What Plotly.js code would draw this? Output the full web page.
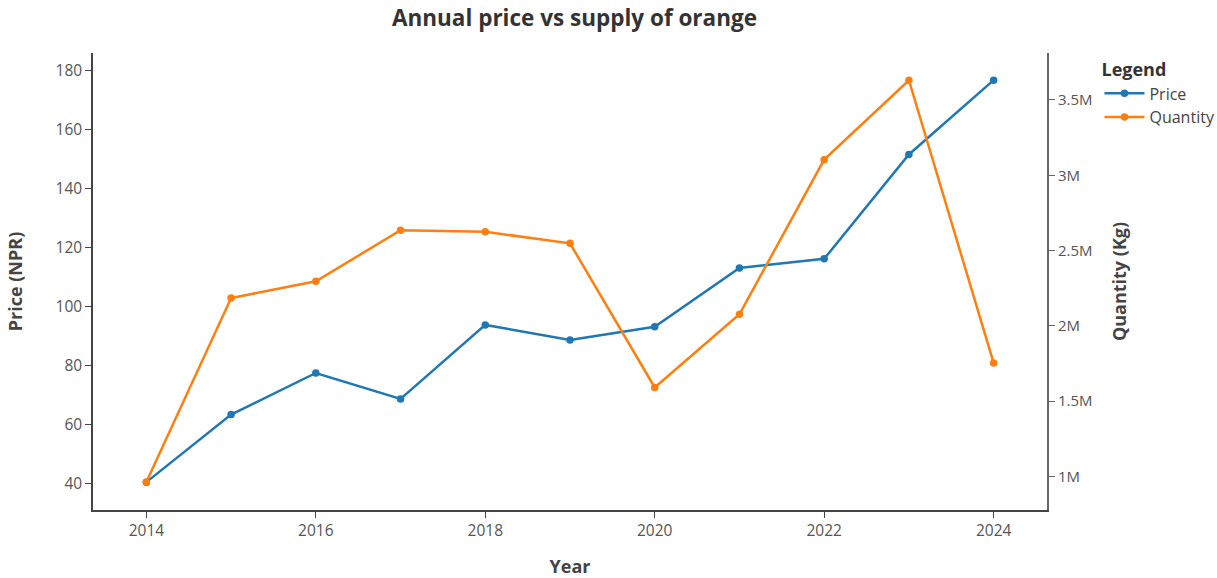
<!DOCTYPE html>
<html>
<head>
<meta charset="utf-8">
<script src="https://cdn.plot.ly/plotly-3.0.1.min.js"></script>
<style>html,body{margin:0;padding:0;background:#fff;}#chart{width:1217px;height:578px;}</style>
</head>
<body>
<div id="chart"></div>
<script>
const years = [2014, 2015, 2016, 2017, 2018, 2019, 2020, 2021, 2022, 2023, 2024];
const price = [40.4, 63.3, 77.4, 68.6, 93.7, 88.6, 93.1, 113.0, 116.1, 151.5, 176.7];
const quantity = [963000, 2185000, 2296000, 2635000, 2625000, 2548000, 1591000, 2077000, 3104000, 3631000, 1754000];

const font = 'Open Sans, Noto Sans, sans-serif';

const traces = [
  {x: years, y: price, name: 'Price', type: 'scatter', mode: 'lines+markers', yaxis: 'y',
   line: {color: '#1f77b4', width: 2.5}, marker: {color: '#1f77b4', size: 7.5}},
  {x: years, y: quantity, name: 'Quantity', type: 'scatter', mode: 'lines+markers', yaxis: 'y2',
   line: {color: '#ff7f0e', width: 2.5}, marker: {color: '#ff7f0e', size: 7.5}}
];

const layout = {
  width: 1217, height: 578,
  margin: {l: 93, r: 170, t: 53, b: 68, autoexpand: false},
  paper_bgcolor: '#fff', plot_bgcolor: '#fff',
  font: {family: font, color: '#444', size: 15},
  title: {text: '<b>Annual price vs supply of orange</b>', x: 0.5047, xref: 'paper', y: 0.968, yanchor: 'middle',
          font: {family: font, size: 22.5, color: '#333'}},
  xaxis: {range: [2013.37, 2024.63], showgrid: false, zeroline: false, showline: true, linecolor: '#444', linewidth: 1.5,
          ticks: 'outside', tickcolor: '#444', ticklen: 6, dtick: 2, tick0: 2014,
          tickfont: {size: 15.5, color: '#555'},
          title: {text: '<b>Year</b>', font: {size: 18, color: '#444'}, standoff: 24}},
  yaxis: {range: [30.95, 185.9], showgrid: false, zeroline: false, showline: true, linecolor: '#444', linewidth: 1.5,
          ticks: 'outside', tickcolor: '#444', ticklen: 6, dtick: 20,
          tickfont: {size: 15.5, color: '#555'},
          title: {text: '<b>Price (NPR)</b>', font: {size: 18, color: '#444'}, standoff: 28}},
  yaxis2: {range: [777500, 3812000], overlaying: 'y', side: 'right', showgrid: false, zeroline: false,
           showline: true, linecolor: '#666', linewidth: 2, ticks: 'outside', tickcolor: '#666', ticklen: 6,
           dtick: 500000, tickformat: '~s', tickfont: {size: 15, color: '#555'},
           title: {text: '<b>Quantity (Kg)</b>', font: {size: 18, color: '#444'}, standoff: 22}},
  legend: {x: 1.055, xanchor: 'left', y: 1.0, yanchor: 'top', itemwidth: 40,
           title: {text: '<b>Legend</b>', font: {size: 18, color: '#333'}},
           font: {size: 16, color: '#444'}, bgcolor: 'rgba(0,0,0,0)'},
  showlegend: true
};

Plotly.newPlot('chart', traces, layout, {displayModeBar: false});
</script>
</body>
</html>
